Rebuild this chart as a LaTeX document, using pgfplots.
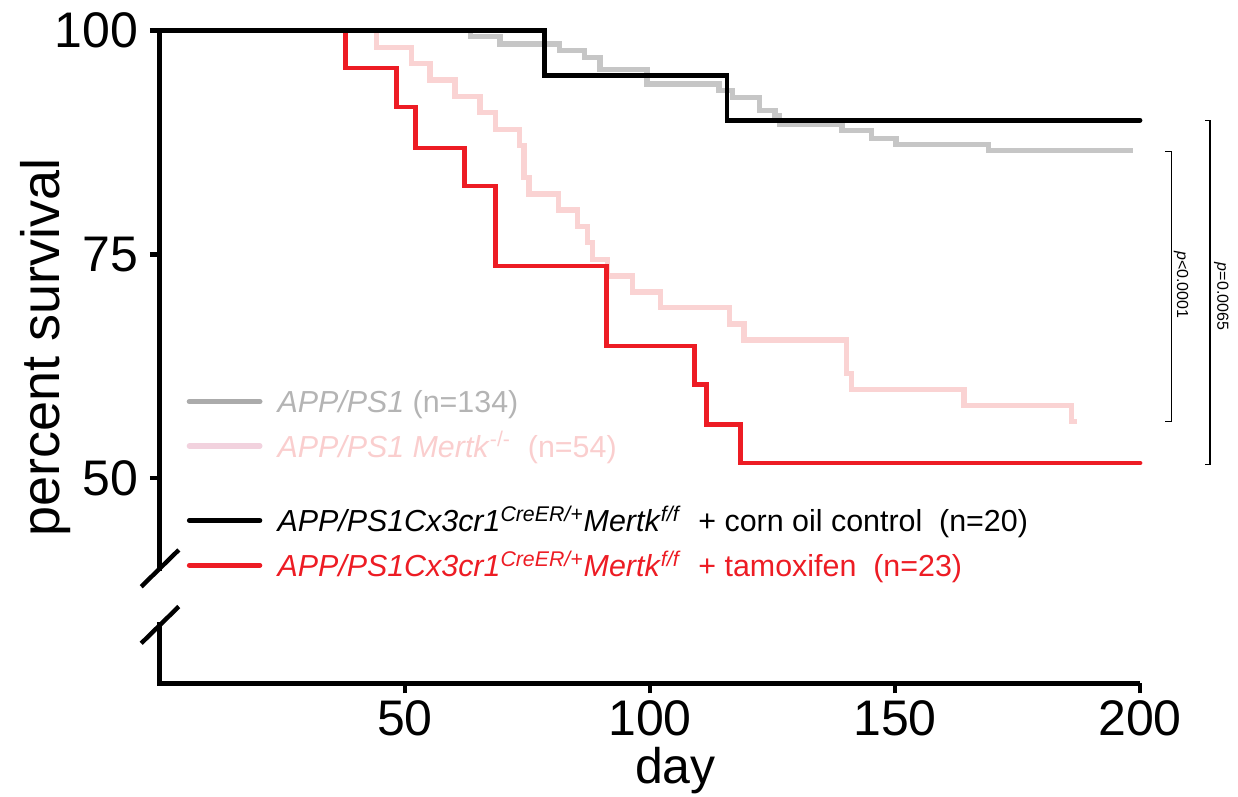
\documentclass[border=0pt]{standalone}
\usepackage{fontspec}
\setmainfont{Liberation Sans}
\usepackage{pgfplots}
\pgfplotsset{compat=1.18}

\definecolor{kmred}{RGB}{237,28,36}
\definecolor{kmgray}{RGB}{198,198,198}
\definecolor{kmpink}{RGB}{250,211,211}
\definecolor{leggray}{RGB}{171,171,171}
\definecolor{legpink}{RGB}{242,210,222}
\definecolor{txtgray}{RGB}{180,180,180}
\definecolor{txtpink}{RGB}{250,206,206}

\newcommand{\rowstrut}{\rule[-1.6pt]{0pt}{14pt}}

\begin{document}
\begin{tikzpicture}
\begin{axis}[
    scale only axis,
    width=490pt, height=326.3pt,
    xmin=0, xmax=200, ymin=27.08, ymax=100,
    axis x line*=bottom, axis y line*=left,
    axis line style={-, line width=2.5pt},
    y axis line style={draw=none},
    xtick={50,100,150,200}, ytick={50,75,100},
    tick align=outside, major tick length=5pt,
    tick style={line width=2.2pt, black},
    /pgf/number format/assume math mode=true,
    ticklabel style={font=\fontsize{25}{30}\selectfont},
    yticklabel style={xshift=-2.5pt},
    xlabel={day}, ylabel={percent survival},
    xlabel style={at={(axis description cs:0.526,-0.133)}, anchor=center, font=\fontsize{25}{30}\selectfont},
    ylabel style={at={(axis description cs:-0.1173,0.514)}, anchor=center, font=\fontsize{27}{32}\selectfont},
    clip=false,
    legend cell align=left,
    legend image code/.code={\draw[#1, line cap=round] (1.1pt,0pt) -- (36.4pt,0pt);},
    legend style={draw=none, fill=none, inner sep=0pt, outer sep=0pt,
        at={(axis cs:5.45,60.11)}, anchor=north west,
        row sep=8pt, column sep=7.5pt,
        font=\fontsize{15.2}{18}\selectfont,
        nodes={inner sep=0pt}},
]
% APP/PS1 (n=134)
\addplot[const plot, draw=kmgray, line width=2.6pt, forget plot] coordinates {
    (0,100) (63.4,99.33) (69.4,98.51) (81.6,97.77) (86.7,96.98) (89.8,95.69)
    (99.4,94.04) (114.1,93.30) (116.8,92.56) (122.4,91.06) (125.5,90.47)
    (126.5,89.58) (139.2,88.83) (145.2,87.98) (150.2,87.31) (169.0,86.59)
    (198.5,86.59)
};
% APP/PS1 Mertk-/- (n=54)
\addplot[const plot, draw=kmpink, line width=2.6pt, forget plot] coordinates {
    (0,100) (44.2,98.15) (51.4,96.36) (55.1,94.49) (60.2,92.63) (65.3,90.84)
    (68.4,88.98) (73.3,87.15) (74.3,83.58) (75.3,81.75) (81.3,79.97)
    (85.2,78.10) (87.2,76.31) (88.3,74.46) (91.3,72.59) (96.4,70.80)
    (102.2,69.09) (116.3,67.23) (119.2,65.44) (140.1,61.72) (141.2,59.93)
    (164.1,58.10) (186.1,56.31) (187.1,56.31)
};
% tamoxifen (n=23)
\addplot[const plot, draw=kmred, line width=2.4pt, line cap=round, forget plot] coordinates {
    (0,100) (37.8,95.83) (48.2,91.47) (52.2,86.89) (62.2,82.65) (68.4,73.71)
    (91.2,64.77) (109.0,60.5) (111.6,56.0) (118.5,51.7) (200,51.7)
};
% corn oil control (n=20)
\addplot[const plot, draw=black, line width=2.4pt, line cap=round, forget plot] coordinates {
    (0,100) (78.4,95.0) (115.7,90.0) (200,90.0)
};

\addlegendimage{draw=leggray, line width=2.6pt}
\addlegendentry{\rowstrut\textcolor{txtgray}{\textit{APP/PS1} (n=134)}}
\addlegendimage{draw=legpink, line width=2.6pt}
\addlegendentry{\rowstrut\textcolor{txtpink}{\textit{APP/PS1 Mertk}\textsuperscript{-/-}\ \ (n=54)}}
\addlegendimage{empty legend}
\addlegendentry{\rule[-5.35pt]{0pt}{10.7pt}}
\addlegendimage{draw=black, line width=2.4pt}
\addlegendentry{\rowstrut\textit{APP/PS1Cx3cr1}\textsuperscript{\textit{CreER/+}}\textit{Mertk}\textsuperscript{\textit{f/f}}\ \ + corn oil control\ \ (n=20)}
\addlegendimage{draw=kmred, line width=2.4pt}
\addlegendentry{\rowstrut\textcolor{kmred}{\textit{APP/PS1Cx3cr1}\textsuperscript{\textit{CreER/+}}\textit{Mertk}\textsuperscript{\textit{f/f}}\ \ + tamoxifen\ \ (n=23)}}

% broken y axis
\draw[line width=2.5pt, line cap=rect] (axis cs:0,100) -- (axis cs:0,39.93);
\draw[line width=2.5pt, line cap=rect] (axis cs:0,33.6) -- (axis cs:0,27.08);
\draw[line width=2.2pt] ([xshift=-9.4pt,yshift=-9.2pt]axis cs:0,39.93) -- ([xshift=9.4pt,yshift=9.2pt]axis cs:0,39.93);
\draw[line width=2.2pt] ([xshift=-9.4pt,yshift=-9.2pt]axis cs:0,33.6) -- ([xshift=9.4pt,yshift=9.2pt]axis cs:0,33.6);

% significance brackets
\draw[line width=0.6pt] (axis cs:205.1,86.48) -- (axis cs:206.5,86.48) -- (axis cs:206.5,56.31) -- (axis cs:205.1,56.31);
\draw[line width=0.6pt] (axis cs:213.3,89.98) -- (axis cs:214.3,89.98) -- (axis cs:214.3,51.5) -- (axis cs:213.3,51.5);
\node[rotate=-90, font=\fontsize{8}{9.6}\selectfont] at (axis cs:208.4,71.6) {\textit{p}<0.0001};
\node[rotate=-90, font=\fontsize{8}{9.6}\selectfont] at (axis cs:216.6,70.3) {\textit{p}=0.0065};
\end{axis}
\pgfresetboundingbox
\useasboundingbox (-80pt,-56.85pt) rectangle (539pt,341.65pt);
\end{tikzpicture}
\end{document}
